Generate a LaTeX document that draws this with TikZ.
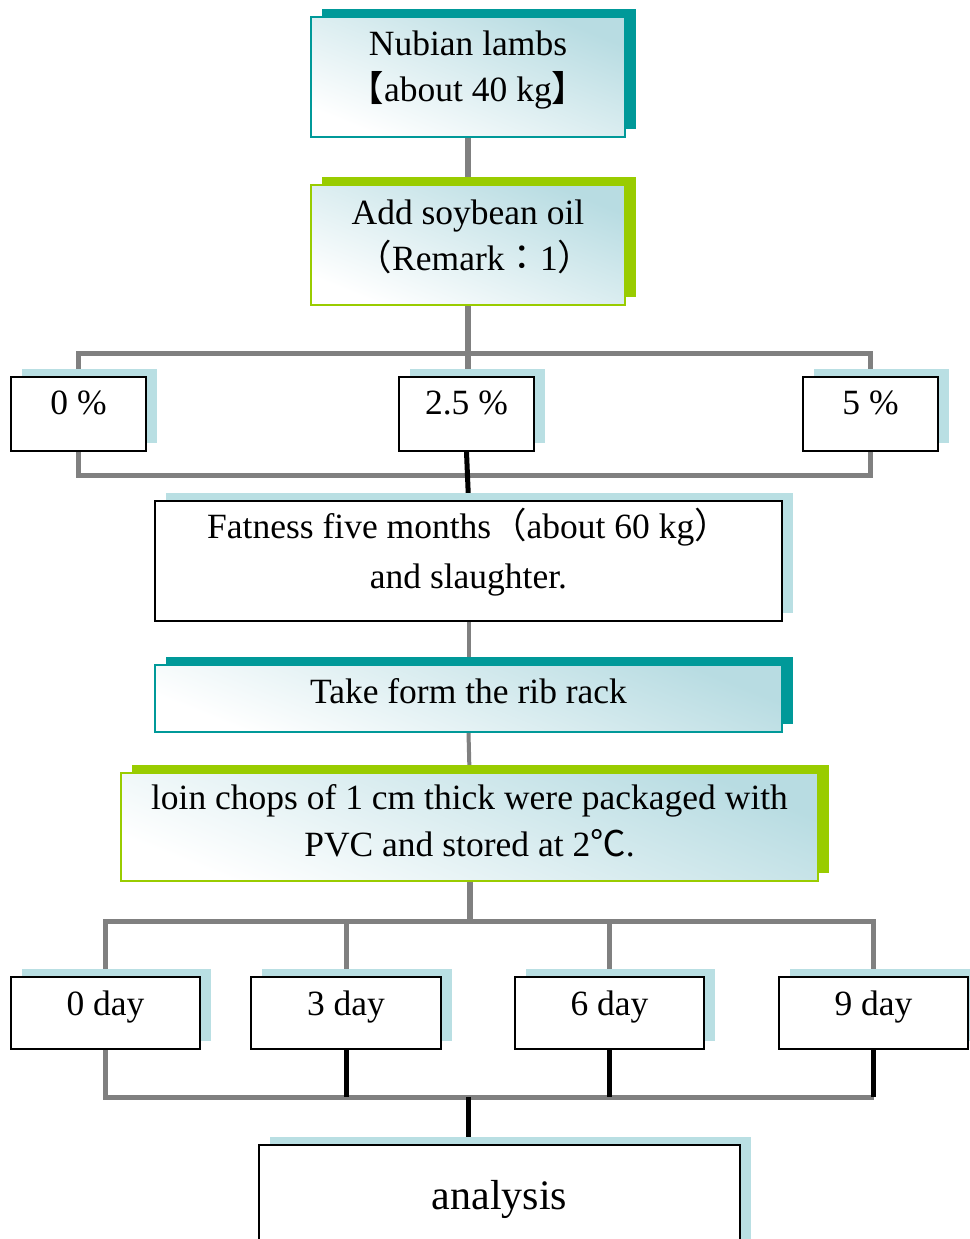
\documentclass[tikz,border=0pt]{standalone}
\usepackage{fontspec}
\setmainfont{Liberation Serif}
\newfontfamily\cjk{Noto Sans CJK TC}
\usetikzlibrary{shadows,calc}
\pgfdeclarelayer{bg}
\pgfsetlayers{bg,main}
\definecolor{tealc}{RGB}{0,153,153}
\definecolor{greenc}{RGB}{153,204,0}
\definecolor{shadowblue}{RGB}{185,223,227}
\definecolor{gradblue}{RGB}{184,220,226}
\definecolor{linegray}{RGB}{128,128,128}
\tikzset{
  box/.style={rectangle, inner sep=0pt, line width=1.6pt},
  plainbox/.style={box, draw=black, fill=white,
    general shadow={fill=shadowblue, shadow xshift=11pt, shadow yshift=8pt}},
  tealbox/.style={box, draw=tealc, top color=gradblue, bottom color=white, shading angle=-22,
    general shadow={fill=tealc, shadow xshift=11pt, shadow yshift=8pt}},
  greenbox/.style={box, draw=greenc, top color=gradblue, bottom color=white, shading angle=-22,
    general shadow={fill=greenc, shadow xshift=11pt, shadow yshift=8pt}},
  txt/.style={font=\fontsize{35.5}{46}\selectfont, align=center, inner sep=0pt},
  grayline/.style={draw=linegray, line width=5pt},
  blackline/.style={draw=black, line width=5pt},
}
\begin{document}
\begin{tikzpicture}[x=1pt,y=-1pt]
\useasboundingbox (0,0) rectangle (969,1239);

% boxes
\node[tealbox, minimum width=314pt, minimum height=120pt] (b1) at (468,77) {};
\node[txt] (b1t) at ([yshift=7pt]b1.center) {Nubian lambs\\{\cjk 【}about 40 kg{\cjk 】}};

\node[greenbox, minimum width=314pt, minimum height=120pt] (b2) at (468,245) {};
\node[txt] (b2t) at ([yshift=8pt]b2.center) {Add soybean oil\\\hspace*{14pt}{\cjk （}Remark{\cjk ：}1{\cjk ）}};

\node[plainbox, minimum width=135pt, minimum height=74pt] (p0) at (78.5,414) {};
\node[txt] (p0t) at ([yshift=11pt]p0.center) {0 \%};
\node[plainbox, minimum width=135pt, minimum height=74pt] (p25) at (466.5,414) {};
\node[txt] (p25t) at ([yshift=11pt]p25.center) {2.5 \%};
\node[plainbox, minimum width=135pt, minimum height=74pt] (p5) at (870.5,414) {};
\node[txt] (p5t) at ([yshift=11pt]p5.center) {5 \%};

\node[plainbox, minimum width=627pt, minimum height=120pt] (fat) at (468.5,561) {};
\node[txt, font=\fontsize{35.5}{50}\selectfont] (fatt) at ([yshift=9pt]fat.center)
  {Fatness five months{\cjk （}about 60 kg{\cjk ）}\\and slaughter.};

\node[tealbox, minimum width=627pt, minimum height=67pt] (rib) at (468.5,698.5) {};
\node[txt] (ribt) at ([yshift=7.5pt]rib.center) {Take form the rib rack};

\node[greenbox, minimum width=697pt, minimum height=108pt] (loin) at (469.5,827) {};
\node[txt, font=\fontsize{35.5}{47}\selectfont] (loint) at ([yshift=6pt]loin.center)
  {loin chops of 1 cm thick were packaged with\\PVC and stored at 2{\cjk ℃}.};

\node[plainbox, minimum width=189pt, minimum height=72pt] (d0) at (105.5,1013) {};
\node[txt] (d0t) at ([yshift=6pt]d0.center) {0 day};
\node[plainbox, minimum width=190pt, minimum height=72pt] (d3) at (346,1013) {};
\node[txt] (d3t) at ([yshift=6pt]d3.center) {3 day};
\node[plainbox, minimum width=189pt, minimum height=72pt] (d6) at (609.5,1013) {};
\node[txt] (d6t) at ([yshift=6pt]d6.center) {6 day};
\node[plainbox, minimum width=189pt, minimum height=72pt] (d9) at (873.5,1013) {};
\node[txt] (d9t) at ([yshift=6pt]d9.center) {9 day};

\node[plainbox, minimum width=481pt, minimum height=120pt] (ana) at (499.5,1205) {};
\node[txt, font=\fontsize{42}{50}\selectfont] (anat) at ([yshift=6pt]ana.center) {analysis};

% connectors
\begin{pgfonlayer}{bg}
\draw[grayline, line width=6pt] (b1.south) -- (b2.north);
\coordinate (pt) at (468,353);
\coordinate (pb) at (468,475);
\draw[grayline, line width=6pt] (b2.south) -- (b2.south |- p25.north);
\draw[grayline, line join=miter] (p0.north) -- (p0.north |- pt) -- (p5.north |- pt) -- (p5.north);
\draw[grayline, line join=miter] (p0.south) -- (p0.south |- pb) -- (p5.south |- pb) -- (p5.south);
\draw[blackline] (p25.south) -- (fat.north);
\draw[grayline, line width=4pt] (fat.south) -- (rib.north);
\draw[grayline, line width=4pt] (rib.south) -- (loin.north);
\coordinate (dt) at (468,921);
\coordinate (db) at (468,1097);
\draw[grayline, line width=6pt] (loin.south) -- (loin.south |- dt);
\draw[grayline, line join=miter] (d0.north) -- (d0.north |- dt) -- (d9.north |- dt) -- (d9.north);
\draw[grayline] (d3.north) -- (d3.north |- dt);
\draw[grayline] (d6.north) -- (d6.north |- dt);
\draw[grayline, line join=miter] (d0.south) -- (d0.south |- db) -- (d9.south |- db);
\draw[blackline] (d3.south) -- (d3.south |- db);
\draw[blackline] (d6.south) -- (d6.south |- db);
\draw[blackline] (d9.south) -- (d9.south |- db);
\draw[blackline] (db) -- (db |- ana.north);
\end{pgfonlayer}
\end{tikzpicture}
\end{document}
